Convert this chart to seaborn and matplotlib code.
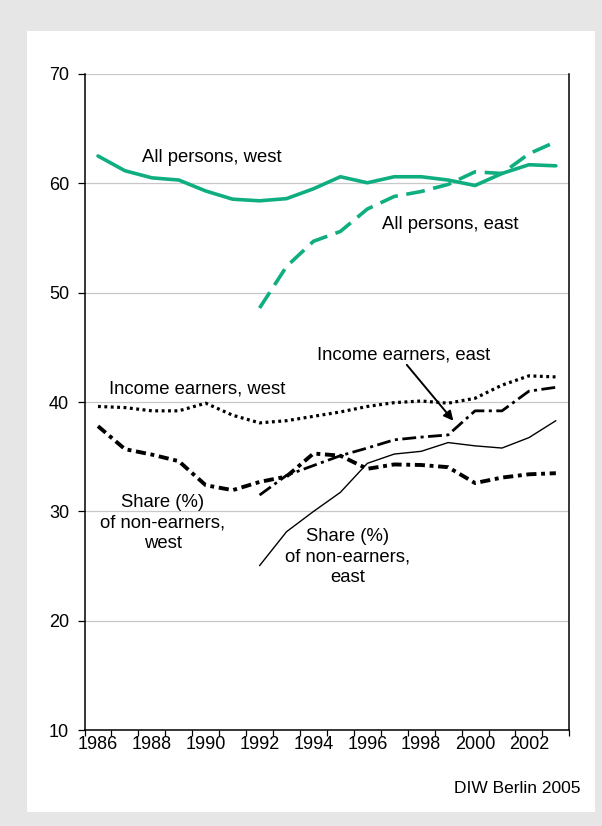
import numpy as np
import pandas as pd
import matplotlib.pyplot as plt
from matplotlib.patches import Rectangle
import seaborn as sns

# Data (percent)
years_all = list(range(1986, 2004))
years_east = list(range(1992, 2004))

all_west = [62.5, 61.15, 60.5, 60.3, 59.3, 58.55, 58.4, 58.6, 59.5, 60.6,
            60.05, 60.6, 60.6, 60.3, 59.8, 60.9, 61.7, 61.6]
all_east = [48.6, 52.4, 54.7, 55.6, 57.65, 58.8, 59.25, 59.9, 61.05, 60.9,
            62.7, 63.8]
earners_west = [39.6, 39.5, 39.2, 39.2, 39.9, 38.8, 38.1, 38.3, 38.7, 39.1,
                39.6, 39.95, 40.1, 39.9, 40.35, 41.55, 42.4, 42.3]
earners_east = [31.5, 33.3, 34.2, 35.1, 35.8, 36.55, 36.8, 37.0, 39.2, 39.2,
                41.0, 41.35]
nonearn_west = [37.8, 35.7, 35.2, 34.6, 32.4, 31.95, 32.7, 33.2, 35.3, 35.1,
                33.9, 34.3, 34.25, 34.05, 32.6, 33.1, 33.4, 33.5]
nonearn_east = [25.05, 28.15, 30.0, 31.75, 34.4, 35.25, 35.5, 36.3, 36.0,
                35.8, 36.75, 38.3]

year_labels = [str(y) for y in range(1986, 2003, 2)]
yticks = [10, 20, 30, 40, 50, 60, 70]

green = '#0fae80'

sns.set_theme(style='white')
plt.rcParams['font.family'] = ['Liberation Sans', 'DejaVu Sans']
plt.rcParams['font.size'] = 13
plt.rcParams['text.color'] = 'black'
plt.rcParams['xtick.color'] = 'black'
plt.rcParams['ytick.color'] = 'black'

fig = plt.figure(figsize=(6.02, 8.26), dpi=100)
fig.patch.set_facecolor('#e6e6e6')
# white card behind the chart
fig.patches.append(Rectangle((0.0443, 0.0174), 0.9441, 0.9451,
                             transform=fig.transFigure, facecolor='white',
                             edgecolor='none', zorder=-5))
ax = fig.add_axes([0.1404, 0.1159, 0.8053, 0.7946])
ax.set_facecolor('white')

west = pd.DataFrame({'year': years_all, 'all': all_west,
                     'earn': earners_west, 'non': nonearn_west})
east = pd.DataFrame({'year': years_east, 'all': all_east,
                     'earn': earners_east, 'non': nonearn_east})

sns.lineplot(data=west, x='year', y='all', ax=ax, color=green, lw=2.6)
sns.lineplot(data=east, x='year', y='all', ax=ax, color=green, lw=2.6,
             linestyle=(0, (5.2, 2.4)))
sns.lineplot(data=west, x='year', y='earn', ax=ax, color='black', lw=2.3,
             linestyle=(0, (0.9, 1.1)))
sns.lineplot(data=east, x='year', y='earn', ax=ax, color='black', lw=2.0,
             linestyle=(0, (5, 1.6, 1.1, 1.6)))
sns.lineplot(data=west, x='year', y='non', ax=ax, color='black', lw=2.8,
             linestyle=(0, (2.6, 1.2, 1.0, 1.2)))
sns.lineplot(data=east, x='year', y='non', ax=ax, color='black', lw=1.0)

ax.set_xlim(1985.5, 2003.5)
ax.set_ylim(10, 70)
ax.set_yticks(yticks)
ax.set_xticks(np.arange(1985.5, 2004, 1))
ax.set_xticklabels([])
ax.set_xticks(range(1986, 2003, 2), minor=True)
ax.set_xticklabels(year_labels, minor=True)
ax.tick_params(axis='x', which='major', direction='out', length=4.5,
               width=0.9, color='black', bottom=True)
ax.tick_params(axis='x', which='minor', length=0, pad=4, labelsize=13,
               labelcolor='black')
ax.tick_params(axis='y', direction='out', length=5, width=0.9,
               color='black', left=True, labelsize=13, pad=6,
               labelcolor='black')
ax.yaxis.grid(True, color='#c8c8c8', lw=0.9)
ax.set_axisbelow(True)
ax.set_xlabel('')
ax.set_ylabel('')
for side in ['left', 'bottom', 'right']:
    ax.spines[side].set_color('black')
    ax.spines[side].set_linewidth(1.1)
ax.spines['top'].set_visible(False)

fs = 13.3
ax.text(1987.63, 62.4, 'All persons, west', fontsize=fs, va='center')
ax.text(1996.55, 56.2, 'All persons, east', fontsize=fs, va='center')
ax.text(1994.12, 44.3, 'Income earners, east', fontsize=fs, va='center')
ax.text(1986.41, 41.2, 'Income earners, west', fontsize=fs, va='center')
ax.text(1988.41, 28.95, 'Share (%)\nof non-earners,\nwest', fontsize=fs,
        ha='center', va='center', linespacing=1.3)
ax.text(1995.28, 25.84, 'Share (%)\nof non-earners,\neast', fontsize=fs,
        ha='center', va='center', linespacing=1.3)
ax.annotate('', xy=(1999.26, 38.1), xytext=(1997.4, 43.6),
            arrowprops=dict(arrowstyle='-|>', color='black', lw=1.4,
                            mutation_scale=14))

fig.text(0.965, 0.045, 'DIW Berlin 2005', fontsize=12.5, ha='right',
         va='center')

fig.savefig('out.png', dpi=100, facecolor=fig.get_facecolor())
